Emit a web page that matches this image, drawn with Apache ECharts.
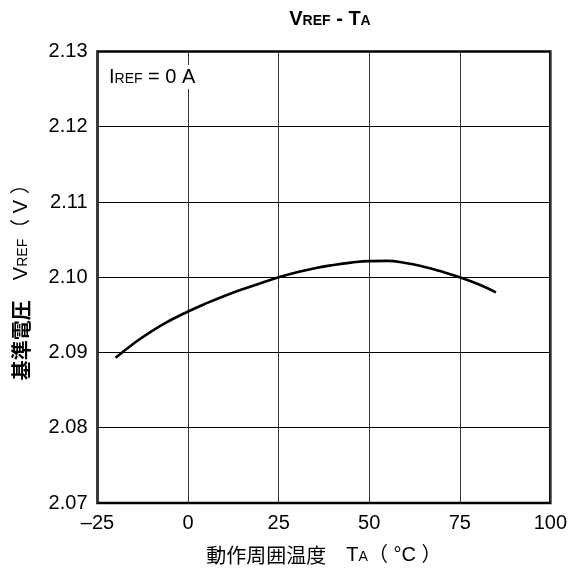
<!DOCTYPE html>
<html><head><meta charset="utf-8">
<script src="https://cdn.jsdelivr.net/npm/echarts@6/dist/echarts.min.js"></script>
<style>html,body{margin:0;padding:0;background:#fff}#c{width:570px;height:574px}</style>
</head><body><div id="c"></div>
<script>
const temps = [-20,-15,-10,-5,0,5,10,15,20,25,30,35,40,45,50,55,60,65,70,75,80,85];
const vref  = [2.0893,2.0912,2.09285,2.09425,2.09545,2.09653,2.09751,2.0984,2.0992,2.1000,2.10066,2.1012,2.10162,2.10194,2.10214,2.10218,2.1019,2.1014,2.10075,2.1000,2.0991,2.0980];
const xTicks = [-25,0,25,50,75,100];
const yTicks = [2.07,2.08,2.09,2.10,2.11,2.12,2.13];

const F = '"Liberation Sans", Arial, sans-serif';
const FJ = '"Liberation Sans", "Noto Sans CJK JP", sans-serif';
const CJK = '"Noto Sans CJK JP", sans-serif';
const chart = echarts.init(document.getElementById('c'), null, {renderer:'canvas'});
chart.setOption({
  animation:false,
  backgroundColor:'#fff',
  title:[{
    text:'{b|V}{s|REF}{b| - T}{s|A}',
    left:325, top:4, textAlign:'center',
    textStyle:{rich:{b:{fontFamily:F,fontWeight:'bold',fontSize:20,color:'#000'},s:{fontFamily:F,fontWeight:'bold',fontSize:14,color:'#000',padding:[4,0,0,0]}}}
  },{
    text:'{n|I}{s|REF}{n| = 0 A}',
    left:105, top:65, backgroundColor:'#fff', padding:[2,4,2,4],
    textStyle:{fontWeight:'normal',rich:{n:{fontFamily:F,fontSize:20,fontWeight:'normal',color:'#000'},s:{fontFamily:F,fontSize:14,fontWeight:'normal',color:'#000',padding:[4,0,0,0]}}}
  }],
  grid:{left:97.5,right:18.5,top:51.5,bottom:71,show:true,borderColor:'#000',borderWidth:2.5,backgroundColor:'transparent'},
  xAxis:{type:'value',min:-25,max:100,interval:25,
    axisLine:{show:false},axisTick:{show:false},
    splitLine:{show:true,lineStyle:{color:'#333',width:1}},
    axisLabel:{fontFamily:F,fontSize:20,color:'#000',margin:10,formatter:v=>String(v).replace('-','–')},
    name:'{j|動作周囲温度}{n|　T}{s|A}{n|（ °C ）}',nameLocation:'middle',nameGap:42,
    nameTextStyle:{rich:{j:{fontFamily:CJK,fontSize:20,color:'#000'},n:{fontFamily:FJ,fontSize:20,color:'#000'},s:{fontFamily:F,fontSize:14,color:'#000',padding:[4,0,0,0]}}}
  },
  yAxis:{type:'value',min:2.07,max:2.13,interval:0.01,
    axisLine:{show:false},axisTick:{show:false},
    splitLine:{show:true,lineStyle:{color:'#000',width:1}},
    axisLabel:{fontFamily:F,fontSize:20,color:'#000',margin:10,formatter:v=>v.toFixed(2)},
    name:'{j|基準電圧}{n|　V}{s|REF}{n|（ V ）}',nameLocation:'middle',nameGap:66,nameRotate:90,
    nameTextStyle:{rich:{j:{fontFamily:CJK,fontSize:20,fontWeight:'bold',color:'#000'},n:{fontFamily:FJ,fontSize:20,color:'#000'},s:{fontFamily:F,fontSize:14,color:'#000',padding:[4,0,0,0]}}}
  },
  series:[{type:'line',data:temps.map((t,i)=>[t,vref[i]]),smooth:0.5,symbol:'none',
    lineStyle:{color:'#000',width:2.6}}]
});
</script></body></html>
